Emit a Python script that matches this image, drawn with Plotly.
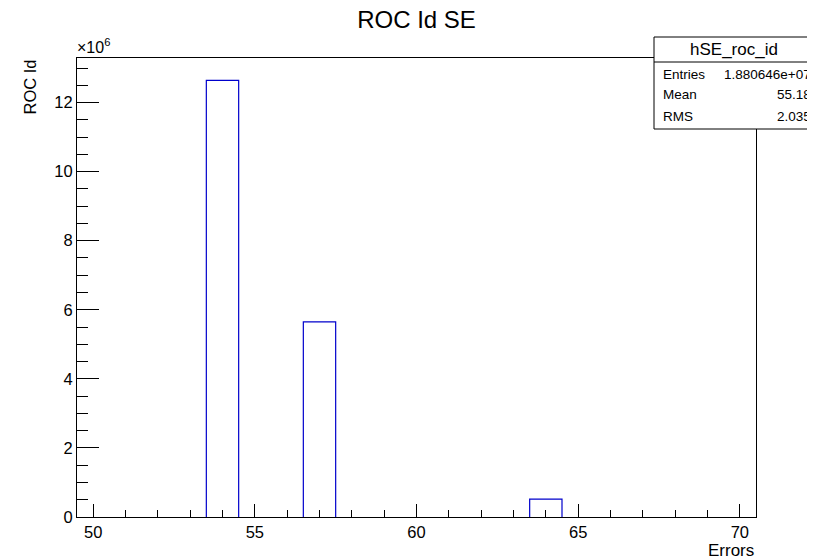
import plotly.graph_objects as go

# Data
bin_centers = list(range(50, 71))
counts = [0, 0, 0, 0, 12640000, 0, 0, 5650000, 0, 0, 0, 0, 0, 0, 516600, 0, 0, 0, 0, 0, 0]
y_tick_vals = [0, 2e6, 4e6, 6e6, 8e6, 10e6, 12e6]
y_tick_text = ["0", "2", "4", "6", "8", "10", "12"]
x_tick_vals = [50, 55, 60, 65, 70]
stats_labels = ["Entries", "Mean", "RMS"]
stats_values = ["1.880646e+07", "55.18", "2.035"]

# page offset of the plot div (default body margin)
OFF = 8
W, H = 815 - OFF, 559 - OFF
# plot area in page pixels: x 77..756, y 58..517
L, R, T, B = 77 - OFF, 815 - 756, 58 - OFF, 559 - 517
pw, ph = W - L - R, H - T - B


def px(x):
    return (x - OFF - L) / pw


def py(y):
    return (H - B - (y - OFF)) / ph


font = "Liberation Sans, Arial, Helvetica, sans-serif"

# histogram outline (open at the base, like ROOT's step drawing over the axis)
hx, hy = [], []
for c, v in zip(bin_centers, counts):
    if v > 0:
        hx += [c - 0.5, c - 0.5, c + 0.5, c + 0.5, None]
        hy += [0, v, v, 0, None]

fig = go.Figure()
fig.add_trace(go.Scatter(
    x=hx, y=hy, mode="lines", line=dict(color="#0000cc", width=1.2),
    showlegend=False, hoverinfo="skip", connectgaps=False,
))

fig.update_layout(
    width=W, height=H,
    margin=dict(l=L, r=R, t=T, b=B),
    paper_bgcolor="white", plot_bgcolor="white",
    font=dict(family=font, color="black", size=16),
    title=dict(text="ROC Id SE", x=(L + pw / 2) / W, xanchor="center",
               y=1 - (20 - OFF) / H, yanchor="middle", font=dict(size=24)),
    xaxis=dict(range=[49.5, 70.5], tickvals=x_tick_vals, ticks="inside", ticklen=13,
               tickwidth=1, tickcolor="black", showline=True, linecolor="black",
               linewidth=1, mirror=True, showgrid=False, zeroline=False,
               tickfont=dict(size=16.5),
               minor=dict(ticks="inside", ticklen=7, dtick=1, tick0=50, tickcolor="black",
                          showgrid=False)),
    yaxis=dict(range=[0, 13.29e6], tickvals=y_tick_vals, ticktext=y_tick_text,
               ticks="inside", ticklen=22, tickwidth=1, tickcolor="black",
               showline=True, linecolor="black", linewidth=1, mirror=True,
               showgrid=False, zeroline=False, tickfont=dict(size=16.5),
               minor=dict(ticks="inside", ticklen=11, dtick=0.5e6, tick0=0,
                          tickcolor="black", showgrid=False)),
)

# axis titles
fig.add_annotation(text="Errors", x=px(756), y=py(550), xref="paper", yref="paper",
                   xanchor="right", yanchor="middle", showarrow=False, font=dict(size=17))
fig.add_annotation(text="ROC Id", x=px(29), y=py(58), xref="paper", yref="paper",
                   xanchor="center", yanchor="top", textangle=-90, showarrow=False,
                   font=dict(size=16.5))
fig.add_annotation(text="×10<sup>6</sup>", x=px(75), y=py(46), xref="paper", yref="paper",
                   xanchor="left", yanchor="middle", showarrow=False, font=dict(size=16))

# stats box
bx0, bx1, by0, by1, byh = 654, 830, 37, 129, 62
fig.add_shape(type="rect", xref="paper", yref="paper", x0=px(bx0), x1=px(bx1),
              y0=py(by1), y1=py(by0), line=dict(color="black", width=1), fillcolor="white")
fig.add_shape(type="line", xref="paper", yref="paper", x0=px(bx0), x1=px(bx1),
              y0=py(byh), y1=py(byh), line=dict(color="black", width=1))
fig.add_annotation(text="hSE_roc_id", x=px(734), y=py(50), xref="paper", yref="paper",
                   xanchor="center", yanchor="middle", showarrow=False, font=dict(size=17))
for i, (lab, val) in enumerate(zip(stats_labels, stats_values)):
    yy = 74 + i * 21
    fig.add_annotation(text=lab, x=px(661), y=py(yy), xref="paper", yref="paper",
                       xanchor="left", yanchor="middle", showarrow=False, font=dict(size=13.5))
    fig.add_annotation(text=val, x=px(813), y=py(yy), xref="paper", yref="paper",
                       xanchor="right", yanchor="middle", showarrow=False, font=dict(size=13.5))

fig.write_html("out.html")
